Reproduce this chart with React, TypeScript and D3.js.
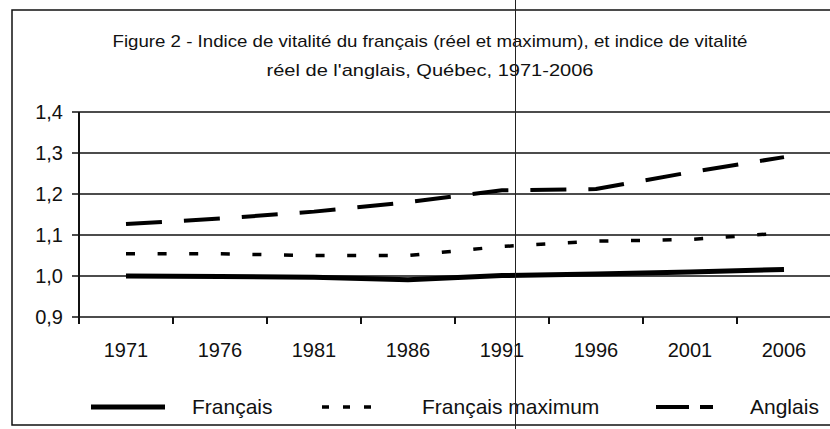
import React, { useEffect, useRef } from "react";
import * as d3 from "d3";

const years = ["1971", "1976", "1981", "1986", "1991", "1996", "2001", "2006"];
const francais = [1.0, 0.999, 0.997, 0.991, 1.001, 1.005, 1.01, 1.016];
const francaisMax = [1.054, 1.054, 1.05, 1.05, 1.072, 1.085, 1.089, 1.105];
const anglais = [1.127, 1.14, 1.157, 1.18, 1.209, 1.212, 1.253, 1.29];
const yTicks = [0.9, 1.0, 1.1, 1.2, 1.3, 1.4];

const titleLines = [
  "Figure 2 - Indice de vitalité du français (réel et maximum), et indice de vitalité",
  "réel de l'anglais, Québec, 1971-2006",
];
const titleWidths = [635, 327];

const width = 830;
const height = 429;
const font = "'Liberation Sans', Arial, sans-serif";

const series = [
  { name: "Français", values: francais, width: 5, dash: null, legendDash: null, lx: [91, 165], tx: 192 },
  { name: "Français maximum", values: francaisMax, width: 3.5, dash: "9,22.6", legendDash: "7,14", lx: [322, 371], tx: 422 },
  { name: "Anglais", values: anglais, width: 4, dash: "36,22", legendDash: "33,11", lx: [656, 713], tx: 750 },
];

export default function App() {
  const ref = useRef<SVGSVGElement>(null);

  useEffect(() => {
    const svg = d3.select(ref.current);
    svg.selectAll("*").remove();

    const x = d3.scaleBand().domain(years).range([79, 79 + 94 * years.length]);
    const y = d3.scaleLinear().domain([0.9, 1.4]).range([317, 112]);
    const cx = (d: string) => (x(d) as number) + x.bandwidth() / 2;

    svg.append("rect").attr("width", width).attr("height", height).attr("fill", "#fff");

    // frame (left, top, bottom)
    svg
      .append("path")
      .attr("d", `M${width},10 H12 V425 H${width}`)
      .attr("fill", "none")
      .attr("stroke", "#111")
      .attr("stroke-width", 1.5);

    // title
    svg
      .append("g")
      .selectAll("text")
      .data(titleLines)
      .enter()
      .append("text")
      .attr("x", 430)
      .attr("y", (d, i) => 47 + i * 29)
      .attr("text-anchor", "middle")
      .attr("textLength", (d, i) => titleWidths[i])
      .attr("lengthAdjust", "spacingAndGlyphs")
      .style("font", `17px ${font}`)
      .attr("fill", "#111")
      .text((d) => d);

    // gridlines
    svg
      .append("g")
      .selectAll("line")
      .data(yTicks)
      .enter()
      .append("line")
      .attr("x1", 72)
      .attr("x2", width)
      .attr("y1", (d) => y(d))
      .attr("y2", (d) => y(d))
      .attr("stroke", "#111")
      .attr("stroke-width", 1.6);

    // y axis
    svg
      .append("line")
      .attr("x1", 79)
      .attr("x2", 79)
      .attr("y1", y(1.4))
      .attr("y2", y(0.9) + 7)
      .attr("stroke", "#111")
      .attr("stroke-width", 2);

    svg
      .append("g")
      .selectAll("text")
      .data(yTicks)
      .enter()
      .append("text")
      .attr("x", 63)
      .attr("y", (d) => y(d))
      .attr("dy", "0.36em")
      .attr("text-anchor", "end")
      .style("font", `20px ${font}`)
      .attr("fill", "#111")
      .text((d) => d3.format(".1f")(d).replace(".", ","));

    // x ticks between categories
    svg
      .append("g")
      .selectAll("line")
      .data(years.slice(1))
      .enter()
      .append("line")
      .attr("x1", (d) => x(d) as number)
      .attr("x2", (d) => x(d) as number)
      .attr("y1", y(0.9))
      .attr("y2", y(0.9) + 7)
      .attr("stroke", "#111")
      .attr("stroke-width", 2);

    svg
      .append("g")
      .selectAll("text")
      .data(years)
      .enter()
      .append("text")
      .attr("x", (d) => cx(d))
      .attr("y", 357)
      .attr("text-anchor", "middle")
      .style("font", `20px ${font}`)
      .attr("fill", "#111")
      .text((d) => d);

    // series lines
    const line = d3
      .line<number>()
      .x((d, i) => cx(years[i]))
      .y((d) => y(d));

    series.forEach((s) => {
      svg
        .append("path")
        .datum(s.values)
        .attr("d", line)
        .attr("fill", "none")
        .attr("stroke", "#000")
        .attr("stroke-width", s.width)
        .attr("stroke-dasharray", s.dash)
        .attr("stroke-linejoin", "round");
    });

    // legend
    const lg = svg.append("g");
    series.forEach((s) => {
      lg.append("line")
        .attr("x1", s.lx[0])
        .attr("x2", s.lx[1])
        .attr("y1", 407)
        .attr("y2", 407)
        .attr("stroke", "#000")
        .attr("stroke-width", s.width)
        .attr("stroke-dasharray", s.legendDash);
      lg.append("text")
        .attr("x", s.tx)
        .attr("y", 414)
        .style("font", `21px ${font}`)
        .attr("fill", "#111")
        .text(s.name);
    });

    // fold line of the scan
    svg
      .append("line")
      .attr("x1", 515.5)
      .attr("x2", 515.5)
      .attr("y1", 0)
      .attr("y2", height)
      .attr("stroke", "#222")
      .attr("stroke-width", 1);
  }, []);

  return (
    <svg
      ref={ref}
      width={width}
      height={height}
      style={{ position: "absolute", left: 0, top: 0, display: "block" }}
    />
  );
}
